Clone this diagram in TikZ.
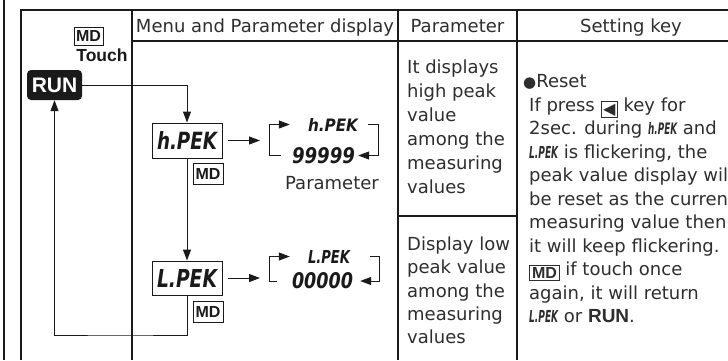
\documentclass[tikz,border=0pt]{standalone}
\usepackage{fontspec}
\usepackage{graphicx}
\setmainfont{DejaVu Sans}
\newfontfamily\arb{Liberation Sans}
\usetikzlibrary{arrows.meta}
\definecolor{txt}{HTML}{2E2E2E}
\definecolor{lc}{HTML}{1A1A1A}
\newcommand\bodyfont{\fontsize{18}{20}\selectfont}
\newcommand\segfont{\bfseries\itshape}
\newcommand\segi[1]{\resizebox{29pt}{12pt}{\segfont #1}}
\newcommand\keybox{\raisebox{-3pt}{\setlength\fboxsep{1.5pt}\setlength\fboxrule{1pt}\fbox{\fontsize{16}{16}\selectfont ◀}}}
\newcommand\mdi{\raisebox{-3pt}{\setlength\fboxsep{1.8pt}\setlength\fboxrule{1pt}\fbox{\arb\bfseries\fontsize{16}{16}\selectfont MD}}}
\begin{document}
\begin{tikzpicture}[x=1pt,y=-1pt,
  tline/.style={line width=1.1pt,draw=lc},
  arr/.style={line width=1pt,draw=lc,-{Triangle[length=11pt,width=8pt]}},
  body/.style={font=\bodyfont,text=txt,inner sep=0pt,anchor=base west},
  hdr/.style={font=\bodyfont,text=txt,inner sep=0pt,anchor=base},
  mdbox/.style={draw=lc,line width=1pt,minimum width=30pt,minimum height=21pt,inner sep=0pt,text=lc,font=\arb\bfseries\fontsize{16}{16}\selectfont},
  segbox/.style={draw=lc,line width=1pt,minimum width=70pt,minimum height=35pt,inner sep=0pt,text=lc},
  seg/.style={inner sep=0pt,text=lc},
  runbox/.style={fill=lc,rounded corners=4pt,minimum width=55pt,minimum height=30pt,inner sep=0pt,text=white,font=\arb\bfseries\fontsize{21}{21}\selectfont}]
\clip (0,0) rectangle (728,360);
\fill[white] (0,0) rectangle (728,360);
% table
\draw[lc,line width=2.6pt] (4,0) -- (4,360);
\draw[tline] (21,360) -- (21,10) -- (728,10);
\draw[tline] (132,10) -- (132,360);
\draw[tline] (398,10) -- (398,360);
\draw[tline] (517,10) -- (517,360);
\draw[tline] (132,41) -- (728,41);
\draw[tline] (398,216) -- (517,216);
% headers
\node[hdr] (hd1) at (265,32) {Menu and Parameter display};
\node[hdr] (hd2) at (457.5,32) {Parameter};
\node[hdr] (hd3) at (631,32) {Setting key};
% first column
\node[mdbox,minimum width=29pt,minimum height=18pt] (mdt) at (88.5,36) {MD};
\node[inner sep=0pt,text=lc,font=\arb\bfseries\fontsize{17.5}{17.5}\selectfont] (touch) at (102,55) {Touch};
\node[runbox] (run) at (54.5,85) {RUN};
% displays
\node[segbox] (hbox) at (187,140.5) {\resizebox{60pt}{18pt}{\segfont h.PEK}};
\node[mdbox] (md1) at (208,173.5) {MD};
\node[segbox,minimum height=34pt] (lbox) at (187,278) {\resizebox{60pt}{18pt}{\segfont L.PEK}};
\node[mdbox] (md2) at (208,311.5) {MD};
\coordinate (lp) at (120,335);
\draw[arr] (run.east) -| (hbox.north);
\draw[arr] (hbox.south) -- (lbox.north);
\draw[arr] (lbox.south) |- (lp) -| (run.south);
% parameter loops
\node[seg] (hv) at (333,124.5) {\resizebox{50pt}{13pt}{\segfont h.PEK}};
\node[seg] (v9) at (323.5,155.5) {\resizebox{63pt}{16pt}{\segfont 99999}};
\node[seg] (lv) at (329,256.5) {\resizebox{42pt}{13pt}{\segfont L.PEK}};
\node[seg] (v0) at (322.5,281) {\resizebox{61pt}{16pt}{\segfont 00000}};
\node[hdr] (plabel) at (332,189) {Parameter};
\coordinate (hbl) at (269,140.5);
\coordinate (hbr) at (378,140);
\coordinate (lbl) at (269,278);
\coordinate (lbr) at (379,270);
\draw[arr] ([xshift=5pt]hbox.east) -- ([xshift=-9pt]hbl);
\draw[arr] ([xshift=-11pt]v9.west) -| (hbl |- hv.west) -- ([xshift=-18pt]hv.west);
\draw[arr] ([xshift=10pt]hv.east) -| (hbr |- v9.east) -- ([xshift=3pt]v9.east);
\draw[arr] ([xshift=5pt]lbox.east) -- ([xshift=-9pt]lbl);
\draw[arr] ([xshift=-15pt]v0.west) -| (lbl |- lv.west) -- ([xshift=-18pt]lv.west);
\draw[arr] ([xshift=20pt]lv.east) -| (lbr |- v0.east) -- ([xshift=7pt]v0.east);
% parameter column text
\foreach \t [count=\i from 0] in {It displays,high peak,value,among the,measuring,values}
  \node[body] (pa\i) at (407,73.5+24*\i) {\t};
\foreach \t [count=\i from 0] in {Display low,peak value,among the,measuring,values}
  \node[body] (pb\i) at (407,250.5+23.3*\i) {\t};
% setting key column
\node[body] (s0) at (523,87.5) {{\fontsize{15}{15}\selectfont ●}Reset};
\node[body] (s1) at (529,111) {If press \keybox{} key for};
\node[body] (s2) at (529,134.5) {2sec. during \segi{h.PEK} and};
\node[body] (s3) at (529,158) {\segi{L.PEK} is flickering, the};
\node[body] (s4) at (529,181.5) {peak value display will};
\node[body] (s5) at (529,205) {be reset as the current};
\node[body] (s6) at (529,228.5) {measuring value then};
\node[body] (s7) at (529,252) {it will keep flickering.};
\node[body] (s8) at (529,275.5) {\mdi{} if touch once};
\node[body] (s9) at (529,299) {again, it will return};
\node[body] (s10) at (529,322.5) {\segi{L.PEK} or {\arb\bfseries\fontsize{19}{19}\selectfont RUN}.};
\end{tikzpicture}
\end{document}
